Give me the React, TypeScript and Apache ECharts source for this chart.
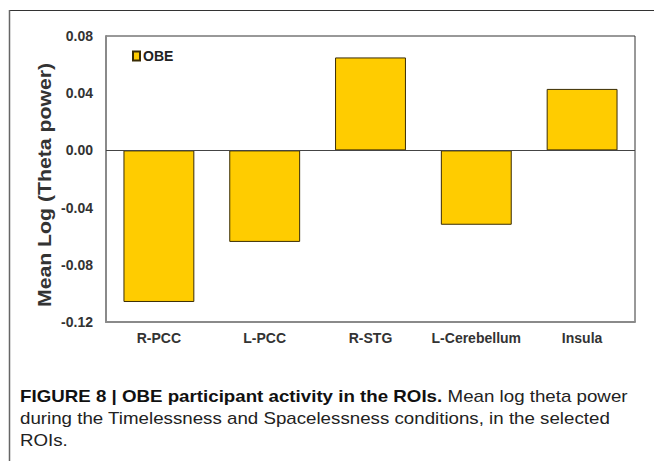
import React, { useEffect, useRef } from "react";
import * as echarts from "echarts";

const categories = ["R-PCC", "L-PCC", "R-STG", "L-Cerebellum", "Insula"];
const obeValues = [-0.106, -0.064, 0.065, -0.052, 0.043];
const seriesName = "OBE";
const yAxisTitle = "Mean Log (Theta power)";
const captionBold = "FIGURE 8 | OBE participant activity in the ROIs.";
const captionLine1 = " Mean log theta power";
const captionLine2 = "during the Timelessness and Spacelessness conditions, in the selected";
const captionLine3 = "ROIs.";

export default function App() {
  const ref = useRef<HTMLDivElement>(null);
  useEffect(() => {
    if (!ref.current) return;
    const chart = echarts.init(ref.current, null, { renderer: "svg" });
    const font = "'Liberation Sans', Arial, sans-serif";
    chart.setOption({
      animation: false,
      backgroundColor: "#ffffff",
      textStyle: { fontFamily: font },
      grid: {
        left: 106,
        top: 36,
        right: 19,
        bottom: 139,
        show: true,
        borderColor: "#333",
        borderWidth: 1,
        backgroundColor: "transparent",
      },
      legend: {
        show: true,
        left: 132,
        top: 49,
        padding: 0,
        icon: "rect",
        itemWidth: 7,
        itemHeight: 9,
        itemGap: 4,
        textStyle: { fontSize: 14, fontWeight: "bold", color: "#222", fontFamily: font, padding: [3, 0, 0, -2] },
        data: [seriesName],
      },
      xAxis: {
        type: "category",
        data: categories,
        axisLine: { show: true, onZero: false, lineStyle: { color: "#8a8a8a", width: 2 } },
        axisTick: { show: false },
        axisLabel: { interval: 0, fontSize: 14, fontWeight: "bold", color: "#333", margin: 9, fontFamily: font },
        splitLine: { show: false },
      },
      yAxis: {
        type: "value",
        min: -0.12,
        max: 0.08,
        interval: 0.04,
        axisLine: { show: true, lineStyle: { color: "#8a8a8a", width: 2 } },
        axisTick: { show: false },
        splitLine: { show: false },
        axisLabel: {
          fontSize: 14,
          fontWeight: "bold",
          color: "#333",
          margin: 13,
          fontFamily: font,
          formatter: (v: number) => (Math.abs(v) < 1e-9 ? 0 : v).toFixed(2),
        },
      },
      series: [
        {
          name: seriesName,
          type: "bar",
          data: obeValues,
          barWidth: "67%",
          itemStyle: { color: "#FFCC00", borderColor: "#3a2c05", borderWidth: 1 },
          markLine: {
            silent: true,
            symbol: "none",
            label: { show: false },
            lineStyle: { color: "#444", width: 1, type: "solid" },
            data: [{ yAxis: 0 }],
          },
        },
      ],
      graphic: [
        { type: "line", shape: { x1: 9, y1: 10.5, x2: 654, y2: 10.5 }, style: { stroke: "#333", lineWidth: 1.2 } },
        { type: "line", shape: { x1: 9.5, y1: 10, x2: 9.5, y2: 461 }, style: { stroke: "#666", lineWidth: 1.5 } },
        {
          type: "text",
          x: 45,
          y: 185,
          rotation: Math.PI / 2,
          scaleX: 1.18,
          scaleY: 1,
          style: {
            text: yAxisTitle,
            fontSize: 18,
            fontWeight: "bold",
            fontFamily: font,
            fill: "#333",
            align: "center",
            verticalAlign: "middle",
          },
        },
        {
          type: "text",
          x: 20,
          y: 385,
          scaleX: 1.17,
          scaleY: 1,
          style: {
            text:
              "{b|" + captionBold + "}{n|" + captionLine1 + "}\n{n|" + captionLine2 + "}\n{n|" + captionLine3 + "}",
            rich: {
              b: { fontSize: 16, fontWeight: "bold", fontFamily: font, fill: "#111", lineHeight: 22 },
              n: { fontSize: 16, fontFamily: font, fill: "#222", lineHeight: 22 },
            },
          },
        },
      ],
    });
    return () => chart.dispose();
  }, []);
  return <div ref={ref} style={{ position: "fixed", left: 0, top: 0, width: 654, height: 461 }} />;
}
